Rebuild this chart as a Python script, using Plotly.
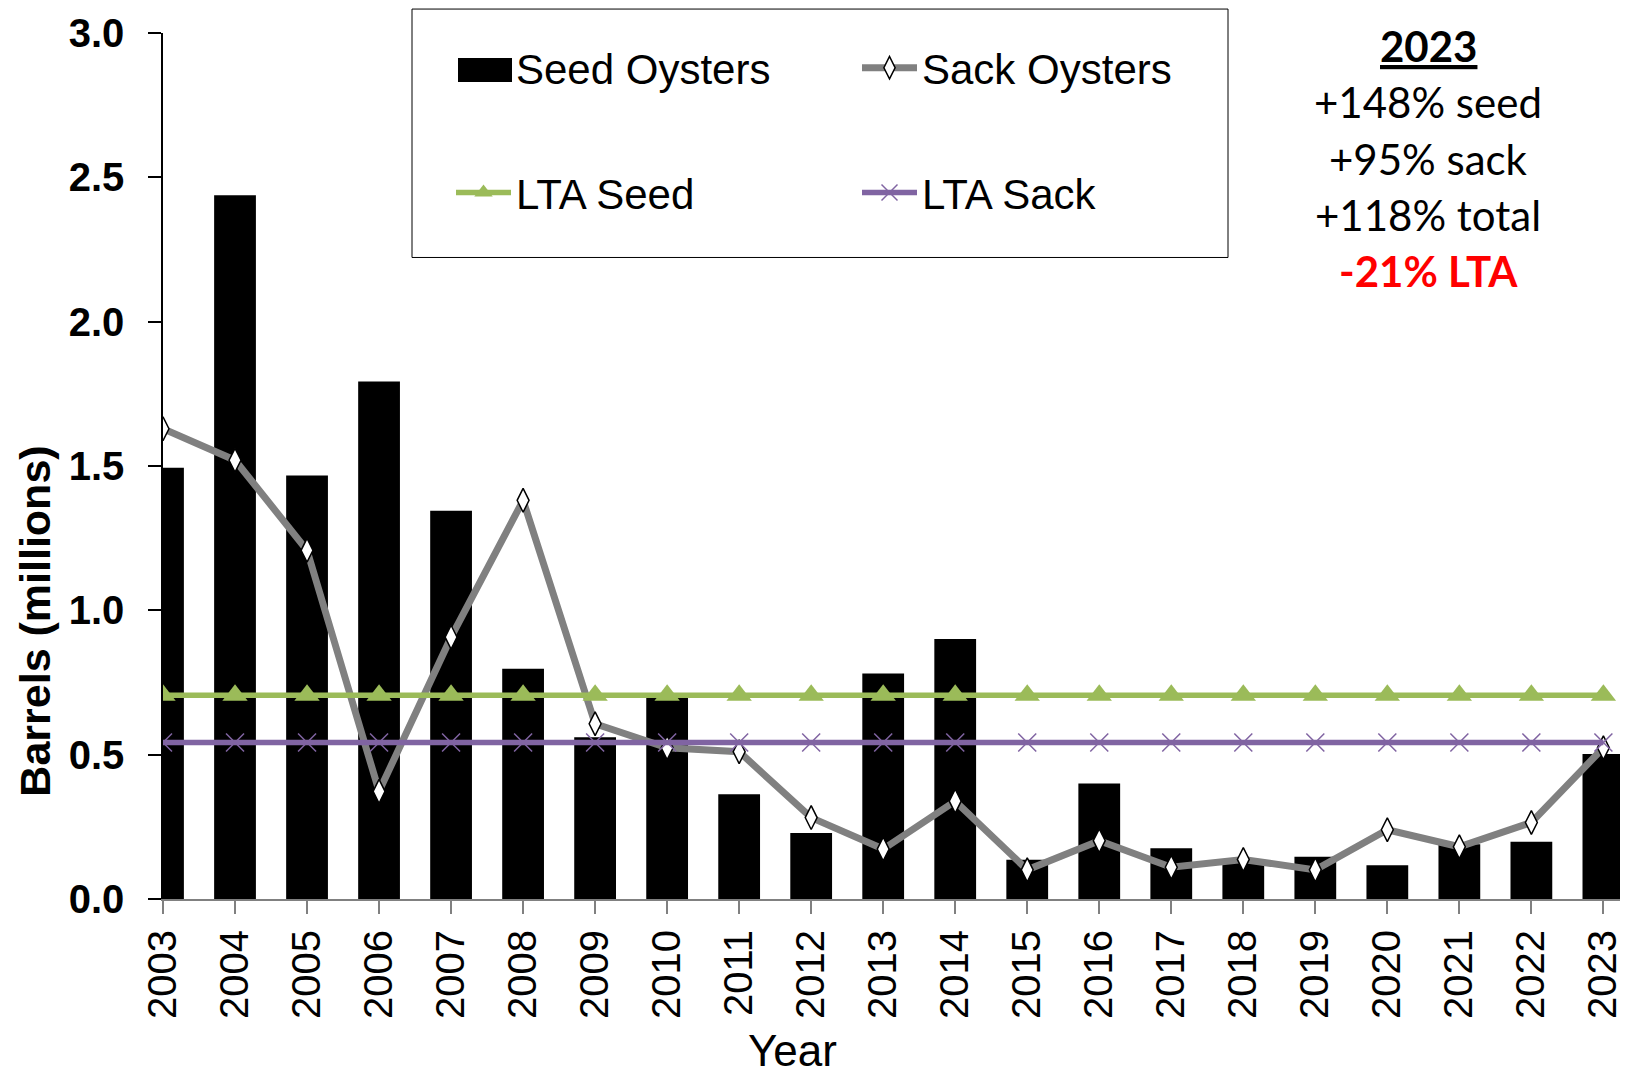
import plotly.graph_objects as go

years = [str(y) for y in range(2003, 2024)]
seed_oysters = [1.494, 2.438, 1.467, 1.793, 1.345, 0.798, 0.560, 0.700, 0.363, 0.229,
                0.781, 0.901, 0.136, 0.400, 0.176, 0.130, 0.146, 0.117, 0.190, 0.198, 0.502]
sack_oysters = [1.629, 1.520, 1.208, 0.373, 0.907, 1.381, 0.607, 0.524, 0.510, 0.282,
                0.173, 0.339, 0.101, 0.202, 0.110, 0.137, 0.101, 0.240, 0.181, 0.265, 0.524]
lta_seed_value = 0.706
lta_sack_value = 0.542
lta_seed = [lta_seed_value] * len(years)
lta_sack = [lta_sack_value] * len(years)
y_ticks = [0.0, 0.5, 1.0, 1.5, 2.0, 2.5, 3.0]

# page offset of the figure (default body margin)
OFF = 8
W, H = 1620, 1073
PLOT_L, PLOT_R, PLOT_T, PLOT_B = 163, 1625, 31, 899  # page coordinates
ML = PLOT_L - OFF
MT = PLOT_T - OFF
MR = W - (PLOT_R - OFF)
MB = H - (PLOT_B - OFF)
PW, PH = W - ML - MR, H - MT - MB

def px(x):
    return (x - OFF - ML) / PW

def py(y):
    return (H - MB - (y - OFF)) / PH

FONT = "Liberation Sans"

fig = go.Figure()
fig.add_trace(go.Bar(x=years, y=seed_oysters, name="Seed Oysters", width=0.58,
                     marker=dict(color="black", line=dict(width=0)), legend="legend"))
fig.add_trace(go.Scatter(x=years, y=sack_oysters, name="Sack Oysters", mode="lines+markers",
                         line=dict(color="#808080", width=7),
                         marker=dict(symbol="diamond-tall", size=17, color="white",
                                     line=dict(color="black", width=1.5)),
                         legend="legend"))
fig.add_trace(go.Scatter(x=years, y=lta_seed, name="LTA Seed", mode="lines+markers",
                         line=dict(color="#9BBB59", width=5.5),
                         marker=dict(symbol="triangle-up", size=22, color="#9BBB59"),
                         legend="legend2"))
fig.add_trace(go.Scatter(x=years, y=lta_sack, name="LTA Sack", mode="lines+markers",
                         line=dict(color="#8064A2", width=5.5),
                         marker=dict(symbol="x-thin", size=18, color="#8064A2",
                                     line=dict(color="#8064A2", width=1.5)),
                         legend="legend2"))

legend_common = dict(orientation="h", xanchor="left", yanchor="middle",
                     font=dict(family=FONT, size=42, color="black"),
                     bgcolor="rgba(0,0,0,0)", borderwidth=0,
                     itemwidth=55, entrywidth=336, entrywidthmode="pixels",
                     traceorder="normal", itemclick=False, itemdoubleclick=False)

fig.update_layout(
    width=W, height=H,
    margin=dict(l=ML, r=MR, t=MT, b=MB),
    paper_bgcolor="white", plot_bgcolor="white",
    showlegend=True,
    legend=dict(x=px(451), y=py(66), **legend_common),
    legend2=dict(x=px(451), y=py(191), **legend_common),
    xaxis=dict(type="category", range=[0, 20.3], showgrid=False,
               showline=True, linecolor="#808080", linewidth=2,
               ticks="outside", ticklen=13, tickcolor="#808080", tickwidth=1.5,
               tickangle=-90, tickfont=dict(family=FONT, size=40, color="black")),
    yaxis=dict(range=[0, 3], tickvals=y_ticks, ticktext=[f"{v:.1f}" for v in y_ticks],
               showgrid=False, zeroline=False,
               showline=True, linecolor="black", linewidth=1.5,
               ticks="outside", ticklen=13, tickcolor="black", tickwidth=1.5,
               ticklabelstandoff=16,
               tickfont=dict(family=FONT, size=40, color="black", weight="bold")),
)

# legend frame and bar swatch
fig.add_shape(type="rect", xref="paper", yref="paper",
              x0=px(412), x1=px(1228), y0=py(256), y1=py(7),
              line=dict(color="black", width=1), fillcolor="rgba(0,0,0,0)")
fig.add_shape(type="rect", xref="paper", yref="paper",
              x0=px(458), x1=px(512), y0=py(80), y1=py(56),
              line=dict(width=0), fillcolor="black")

# axis titles
fig.add_annotation(x=px(35), y=py(621), xref="paper", yref="paper", showarrow=False,
                   xanchor="center", yanchor="middle", textangle=-90,
                   text="<b>Barrels (millions)</b>",
                   font=dict(family=FONT, size=43, color="black"))
fig.add_annotation(x=px(792), y=py(1051), xref="paper", yref="paper", showarrow=False,
                   xanchor="center", yanchor="middle", text="Year",
                   font=dict(family=FONT, size=44, color="black"))

ann_font = "Lato"
cx = px(1428)
fig.add_annotation(x=cx, y=py(44), xref="paper", yref="paper", showarrow=False,
                   xanchor="center", yanchor="middle",
                   text="<u><b>2023</b></u>", font=dict(family=ann_font, size=42, color="black"))
for txt, yy, col, bold in [("+148% seed", 100, "black", False), ("+95% sack", 157, "black", False),
                           ("+118% total", 213, "black", False), ("-21% LTA", 270, "#FF0000", True)]:
    fig.add_annotation(x=cx, y=py(yy), xref="paper", yref="paper", showarrow=False,
                       xanchor="center", yanchor="middle",
                       text=f"<b>{txt}</b>" if bold else txt,
                       font=dict(family=ann_font, size=42, color=col))

fig.write_html("out.html")
